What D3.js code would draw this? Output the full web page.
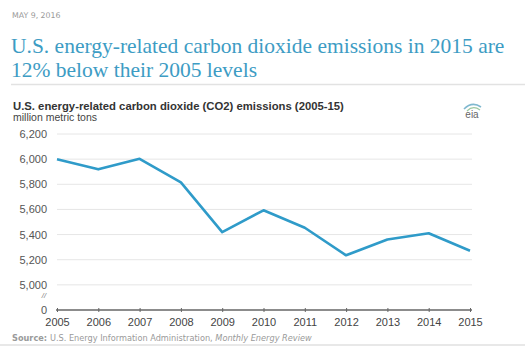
<!DOCTYPE html>
<html><head><meta charset="utf-8">
<script src="https://cdn.jsdelivr.net/npm/d3@7"></script>
<style>body{margin:0;background:#fff;}svg{display:block;}</style>
</head><body>
<script>
const years = [2005,2006,2007,2008,2009,2010,2011,2012,2013,2014,2015];
const emissions = [5999,5919,6003,5815,5420,5593,5454,5235,5361,5410,5271];
const yTicks = [0,5000,5200,5400,5600,5800,6000,6200];
const dateText = "MAY 9, 2016";
const headline = ["U.S. energy-related carbon dioxide emissions in 2015 are","12% below their 2005 levels"];
const chartTitle = "U.S. energy-related carbon dioxide (CO2) emissions (2005-15)";
const unitText = "million metric tons";

const W=525,H=346;
const svg=d3.select("body").append("svg").attr("width",W).attr("height",H);
const sans="Liberation Sans, Arial, sans-serif";
const wide="DejaVu Sans, Verdana, sans-serif";

svg.append("text").attr("x",12).attr("y",18).attr("font-family",wide).attr("font-size",7.8).attr("fill","#9a9a9a").text(dateText);
headline.forEach((t,i)=>svg.append("text").attr("x",11).attr("y",52.5+i*24).attr("font-family","Liberation Serif, Times New Roman, serif").attr("font-size",21.5).attr("fill","#3d9cc4").text(t));
svg.append("line").attr("x1",11).attr("x2",525).attr("y1",84.5).attr("y2",84.5).attr("stroke","#e2e2e2").attr("stroke-width",1.5);

svg.append("text").attr("x",13).attr("y",110).attr("font-family",sans).attr("font-size",11.3).attr("font-weight","bold").attr("fill","#333").text(chartTitle);
svg.append("text").attr("x",13).attr("y",121).attr("font-family",sans).attr("font-size",10.5).attr("fill","#444").text(unitText);

// eia logo
const lg=svg.append("g").attr("transform","translate(472,113)");
lg.append("path").attr("d","M-8,-4 Q0,-12 9,-6").attr("fill","none").attr("stroke","#7fb8cf").attr("stroke-width",1.6);
lg.append("path").attr("d","M-5,-2 Q1,-8 8,-3").attr("fill","none").attr("stroke","#9cc8a0").attr("stroke-width",1.2);
lg.append("text").attr("x",0).attr("y",5).attr("text-anchor","middle").attr("font-family",sans).attr("font-size",10).attr("fill","#666").text("eia");

const x=d3.scalePoint().domain(years).range([57,470]);
const yLin=d3.scaleLinear().domain([4800,6200]).range([310,134]);
const y=v=>v===0?yLin(4800):yLin(v);

// gridlines
svg.append("g").selectAll("line").data(yTicks.filter(v=>v>0)).join("line")
  .attr("x1",57).attr("x2",472).attr("y1",d=>y(d)).attr("y2",d=>y(d))
  .attr("stroke","#e6e6e6").attr("stroke-width",1);
svg.append("g").selectAll("text").data(yTicks).join("text")
  .attr("x",47).attr("y",d=>y(d)+4).attr("text-anchor","end")
  .attr("font-family",sans).attr("font-size",11).attr("fill","#555")
  .text(d=>d3.format(",")(d));
// axis break
svg.append("text").attr("x",46).attr("y",298).attr("text-anchor","end").attr("font-family",sans).attr("font-size",7.5).attr("font-style","italic").attr("fill","#777").text("//");

// x axis
const xa=svg.append("g").attr("transform","translate(0,310)")
  .call(d3.axisBottom(x).tickSize(3).tickFormat(d3.format("d")));
xa.select(".domain").attr("stroke","#666").attr("stroke-width",1.5).attr("d","M56,0H472");
xa.selectAll(".tick line").attr("stroke","#666").attr("y1",-2).attr("y2",2);
xa.selectAll("text").attr("font-family",sans).attr("font-size",11).attr("fill","#444").attr("y",16).attr("dy",0);

// line
svg.append("path").datum(years.map((d,i)=>[d,emissions[i]]))
  .attr("d",d3.line().x(d=>x(d[0])).y(d=>y(d[1])))
  .attr("fill","none").attr("stroke","#2f9bc9").attr("stroke-width",2.6).attr("stroke-linejoin","round");

// source
const st=svg.append("text").attr("x",12).attr("y",341).attr("font-family",wide).attr("font-size",8.2).attr("fill","#9a9a9a");
st.append("tspan").attr("font-weight","bold").text("Source: ");
st.append("tspan").text("U.S. Energy Information Administration, ");
st.append("tspan").attr("font-style","italic").text("Monthly Energy Review");
svg.append("line").attr("x1",0).attr("x2",525).attr("y1",345).attr("y2",345).attr("stroke","#e8e8e8").attr("stroke-width",2);
</script>
</body></html>
